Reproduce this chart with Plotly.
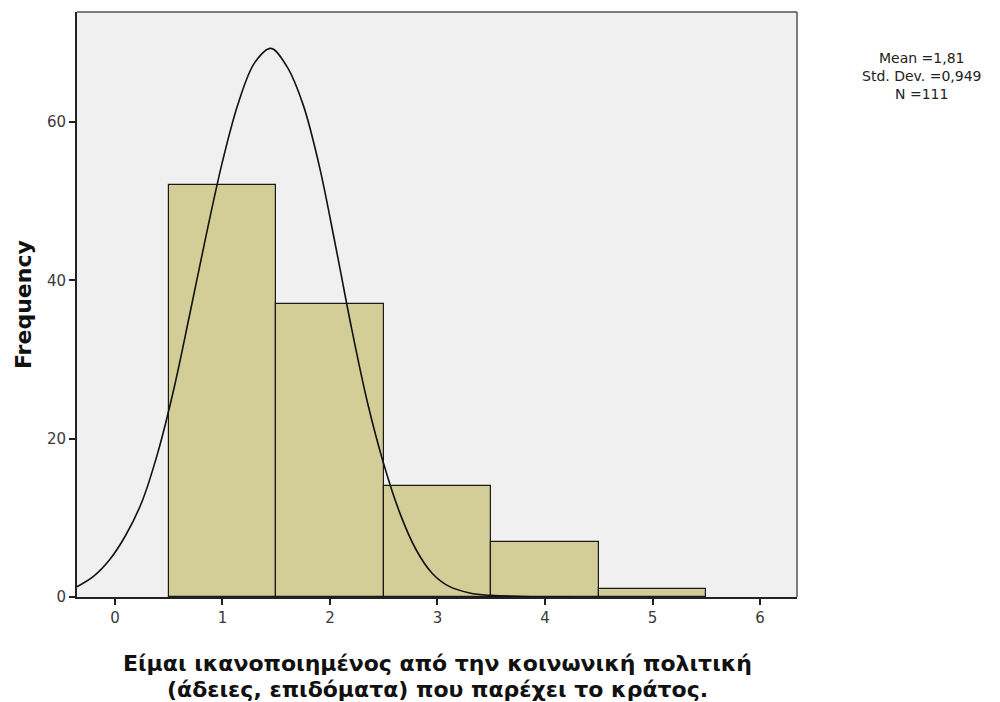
import plotly.graph_objects as go

# Histogram counts per response value
categories = [1, 2, 3, 4, 5]
counts = [52, 37, 14, 7, 1]

# Fitted curve as drawn over the histogram (x, frequency)
curve_x = [-0.353, -0.2, -0.05, 0.1, 0.25, 0.4, 0.55, 0.7, 0.85, 1.0, 1.15, 1.3, 1.45,
           1.6, 1.75, 1.9, 2.05, 2.2, 2.35, 2.5, 2.65, 2.8, 2.95, 3.1, 3.3, 3.5, 3.8, 4.25]
curve_y = [1.3, 2.6, 4.7, 7.8, 12.0, 18.3, 26.4, 36.0, 45.8, 55.0, 62.5, 67.5, 69.3,
           67.0, 62.2, 54.5, 44.5, 34.0, 24.5, 16.8, 10.6, 6.0, 3.0, 1.4, 0.5, 0.2, 0.07, 0.0]

x_ticks = [0, 1, 2, 3, 4, 5, 6]
y_ticks = [0, 20, 40, 60]

stats_lines = ["Mean =1,81", "Std. Dev. =0,949", "N =111"]
x_title_lines = ["Είμαι ικανοποιημένος από την κοινωνική πολιτική",
                 "(άδειες, επιδόματα) που παρέχει το κράτος."]
y_title = "Frequency"

FONT = "DejaVu Sans, Liberation Sans, Arial, sans-serif"

fig = go.Figure()
fig.add_trace(go.Bar(
    x=categories, y=counts, width=1,
    marker=dict(color="#d3ce98", line=dict(color="#1a1a1a", width=1.2)),
    hoverinfo="x+y",
))
fig.add_trace(go.Scatter(
    x=curve_x, y=curve_y, mode="lines",
    line=dict(color="#111111", width=1.6, shape="spline", smoothing=1.0),
    hoverinfo="skip",
))

fig.update_layout(
    width=1000, height=702,
    margin=dict(l=77, r=203, t=12, b=105),
    paper_bgcolor="white",
    plot_bgcolor="#f0f0f0",
    showlegend=False,
    bargap=0,
    font=dict(family=FONT, color="#222222"),
    xaxis=dict(
        range=[-0.353, 6.344], tickvals=x_ticks, ticks="outside", ticklen=6,
        tickcolor="#222", tickwidth=1.5, showgrid=False, zeroline=False,
        showline=True, linecolor="#222", linewidth=2,
        tickfont=dict(size=15, color="#3a3a3a"),
    ),
    yaxis=dict(
        range=[0, 73.9], tickvals=y_ticks, ticks="outside", ticklen=6,
        tickcolor="#222", tickwidth=1.5, showgrid=False, zeroline=False,
        showline=True, linecolor="#222", linewidth=2,
        tickfont=dict(size=15, color="#3a3a3a"),
    ),
)

# Right and top frame of the plotting area
fig.add_shape(type="line", xref="paper", yref="paper", x0=1, x1=1, y0=0, y1=1,
              line=dict(color="#555555", width=1.5))
fig.add_shape(type="line", xref="paper", yref="paper", x0=0, x1=1, y0=1, y1=1,
              line=dict(color="#555555", width=1.5))

# Axis titles
fig.add_annotation(
    xref="paper", yref="paper", x=(23 - 77) / 720, y=(597 - 305) / 585,
    text=f"<b>{y_title}</b>", textangle=-90, showarrow=False,
    xanchor="center", yanchor="middle",
    font=dict(size=22, color="#111111", family=FONT),
)
for i, line in enumerate(x_title_lines):
    fig.add_annotation(
        xref="paper", yref="paper", x=0.5, y=(597 - (663 + 27 * i)) / 585,
        text=f"<b>{line}</b>", showarrow=False,
        xanchor="center", yanchor="middle",
        font=dict(size=22, color="#111111", family=FONT),
    )

# Summary statistics block
fig.add_annotation(
    xref="paper", yref="paper", x=(921 - 77) / 720, y=(597 - 76) / 585,
    text="<br>".join(stats_lines), showarrow=False, align="center",
    xanchor="center", yanchor="middle",
    font=dict(size=14, color="#222222", family=FONT),
)

fig.write_html("out.html")
